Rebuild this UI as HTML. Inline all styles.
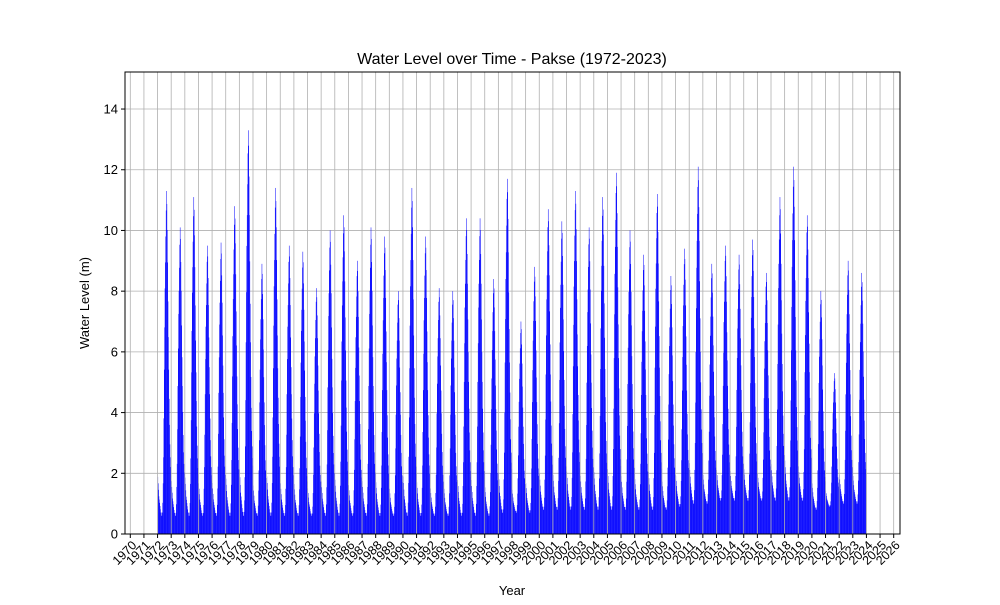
<!DOCTYPE html>
<html><head><meta charset="utf-8"><style>
body{margin:0;background:#fff;font-family:"Liberation Sans","DejaVu Sans",sans-serif}
</style></head><body>
<svg id="chart" width="1000" height="600" xmlns="http://www.w3.org/2000/svg" font-family="Liberation Sans, DejaVu Sans, sans-serif">
<rect width="1000" height="600" fill="#fff"/>
<text x="512" y="64" font-size="16" text-anchor="middle">Water Level over Time - Pakse (1972-2023)</text>
<text x="512" y="595" font-size="13" text-anchor="middle">Year</text>
<text transform="translate(89,303) rotate(-90)" font-size="13" text-anchor="middle">Water Level (m)</text>
<g id="grid"></g><g id="bars"></g><g id="grid2"></g><g id="axes"></g>
</svg>
<script>
const years=[1972,1973,1974,1975,1976,1977,1978,1979,1980,1981,1982,1983,1984,1985,1986,1987,1988,1989,1990,1991,1992,1993,1994,1995,1996,1997,1998,1999,2000,2001,2002,2003,2004,2005,2006,2007,2008,2009,2010,2011,2012,2013,2014,2015,2016,2017,2018,2019,2020,2021,2022,2023];
const peaks=[11.3,10.1,11.1,9.5,9.6,10.8,13.3,8.9,11.4,9.5,9.3,8.1,10.0,10.5,9.0,10.1,9.8,8.0,11.4,9.8,8.1,8.0,10.4,10.4,8.4,11.7,7.0,8.8,10.7,10.3,11.3,10.1,11.1,11.9,10.0,9.2,11.2,8.5,9.4,12.1,8.9,9.5,9.2,9.7,8.6,11.1,12.1,10.5,8.0,5.3,9.0,8.6];
const lows=[0.6,0.6,0.6,0.6,0.6,0.6,0.6,0.6,0.6,0.6,0.6,0.6,0.6,0.6,0.6,0.6,0.6,0.6,0.6,0.6,0.6,0.6,0.6,0.6,0.6,0.7,0.7,0.7,0.8,0.8,0.8,0.8,0.8,0.8,0.8,0.8,0.8,0.8,0.9,1.0,1.0,1.1,1.1,1.1,1.1,1.1,1.1,1.1,0.8,0.9,1.0,1.0];
const seasonShape=[.12,.1,.08,.06,.05,.04,.03,.02,.01,.01,0,0,.01,.04,.1,.18,.3,.45,.58,.7,.78,.86,.94,1,.96,.88,.78,.66,.55,.45,.36,.28,.22,.18,.15,.13];
const yTicks=[0,2,4,6,8,10,12,14];
const xTicks=[];for(let y=1970;y<=2026;y++)xTicks.push(y);
const NS="http://www.w3.org/2000/svg";
const L=125,R=900,T=72,B=534,ymax=15.22;
const xs=v=>130.3+(v-1970)*13.632;
const ys=v=>B-v*(B-T)/ymax;
function mk(tag,at,parent){const e=document.createElementNS(NS,tag);for(const k in at)e.setAttribute(k,at[k]);document.getElementById(parent).appendChild(e);return e;}
yTicks.forEach(t=>{const g=mk('line',{x1:L,x2:R,y1:ys(t),y2:ys(t),stroke:'#b0b0b0','stroke-width':0.8},'grid');

});
xTicks.forEach(t=>{const g=mk('line',{x1:xs(t),x2:xs(t),y1:T,y2:B,stroke:'#b0b0b0','stroke-width':0.8},'grid2');

});
years.forEach((yr,i)=>{seasonShape.forEach((s,j)=>{const v=lows[i]+s*(peaks[i]-lows[i]);
const x=xs(yr+j/36);
const b=mk('rect',{x:x,y:ys(v),width:0.5,height:B-ys(v),fill:'#0000ff'},'bars');

});});
const ax=mk('rect',{x:L,y:T,width:R-L,height:B-T,fill:'none',stroke:'#000','stroke-width':1},'axes');


yTicks.forEach(t=>{mk('line',{x1:L-4,x2:L,y1:ys(t),y2:ys(t),stroke:'#000'},'axes');
const l=mk('text',{x:L-7,y:ys(t)+4.5,'font-size':13,'text-anchor':'end'},'axes');l.textContent=t;

});
xTicks.forEach(t=>{mk('line',{x1:xs(t),x2:xs(t),y1:B,y2:B+4,stroke:'#000'},'axes');
const l=mk('text',{x:0,y:0,'font-size':12.5,'text-anchor':'end',transform:`translate(${xs(t)+7},${B+12}) rotate(-45)`},'axes');l.textContent=t;

});
</script>
</body></html>
